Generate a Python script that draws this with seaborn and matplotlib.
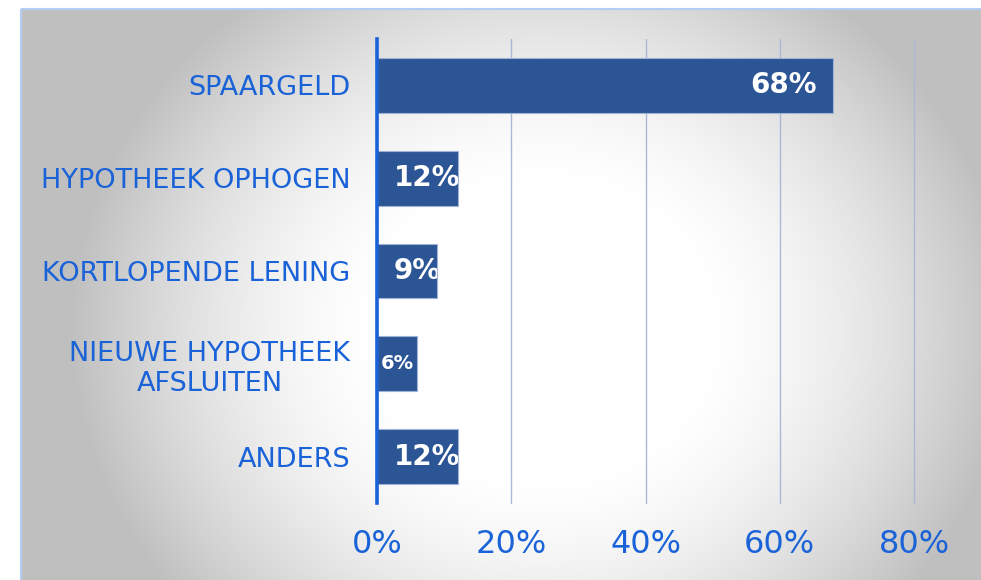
import numpy as np
import pandas as pd
import matplotlib
matplotlib.use("Agg")
import matplotlib.pyplot as plt
import seaborn as sns
from matplotlib.ticker import PercentFormatter
from matplotlib.patches import Rectangle

# --- data ---
categories = ["SPAARGELD", "HYPOTHEEK OPHOGEN", "KORTLOPENDE LENING",
              "NIEUWE HYPOTHEEK\nAFSLUITEN", "ANDERS"]
shares = [0.68, 0.12, 0.09, 0.06, 0.12]
x_ticks = [0.0, 0.2, 0.4, 0.6, 0.8]

df = pd.DataFrame({"categorie": categories, "aandeel": shares})

sns.set_theme(style="white")
plt.rcParams["font.family"] = ["DejaVu Sans"]

BLUE_TEXT = "#1a62d8"
BAR_COLOR = "#2c5595"
W, H = 981, 580

fig = plt.figure(figsize=(W / 100, H / 100), dpi=100)
fig.patch.set_facecolor("white")

# achtergrond: vlak met verloop van wit (midden) naar grijs (randen)
bg = fig.add_axes([0, 0, 1, 1], zorder=0)
bg.set_xlim(0, W)
bg.set_ylim(H, 0)
bg.axis("off")
yy, xx = np.mgrid[0:H, 0:W]
r = np.hypot((xx - 540) / 470, (yy - 330) / 420)
t = np.clip((r - 0.35) / 0.65, 0, 1) ** 1.5
g = 1.0 - 0.25 * t
img = np.dstack([g, g, g])
bg.imshow(img, extent=(0, W, H, 0), aspect="auto", interpolation="bilinear")
bg.add_patch(Rectangle((0, 0), W, 9, facecolor="white", edgecolor="none"))
bg.add_patch(Rectangle((0, 0), 21, H, facecolor="white", edgecolor="none"))
bg.add_patch(Rectangle((21, 9), W, H, facecolor="none", edgecolor="#b5cdf2", lw=1.5))

# hoofdas
left, right, top, bottom = 377, 914, 39, 503
ax = fig.add_axes([left / W, (H - bottom) / H, (right - left) / W, (bottom - top) / H], zorder=1)
ax.patch.set_alpha(0)

sns.barplot(data=df, x="aandeel", y="categorie", orient="h", color=BAR_COLOR,
            width=0.59, saturation=1, edgecolor="#9fb3d6", linewidth=0.8, ax=ax, zorder=3)

ax.set_xlim(0, 0.8)
ax.set_ylim(4.5, -0.5)
ax.set_xticks(x_ticks)
ax.xaxis.set_major_formatter(PercentFormatter(1.0, decimals=0))
ax.grid(axis="x", color="#a9b8d4", lw=1, zorder=0)
for gl in ax.get_xgridlines():
    gl.set_clip_on(False)
ax.set_axisbelow(True)
ax.set_xlabel("")
ax.set_ylabel("")

for s in ["top", "right", "bottom"]:
    ax.spines[s].set_visible(False)
ax.spines["left"].set_color("#1a62d8")
ax.spines["left"].set_linewidth(2.6)
ax.spines["left"].set_zorder(5)

ax.tick_params(axis="y", length=0, pad=19, labelsize=19.5, labelcolor=BLUE_TEXT)
ax.tick_params(axis="x", length=0, pad=19, labelsize=23, labelcolor=BLUE_TEXT)
for lbl in ax.get_yticklabels():
    lbl.set_multialignment("center")

# waardelabels, afgekapt op de balk
for patch, v in zip(ax.patches, shares):
    yc = patch.get_y() + patch.get_height() / 2
    txt = f"{v:.0%}"
    if v >= 0.3:
        t_ = ax.annotate(txt, (v, yc), xytext=(-12, 0), textcoords="offset points",
                         ha="right", va="center", color="white", fontweight="bold",
                         fontsize=20, zorder=4)
    elif v >= 0.08:
        t_ = ax.annotate(txt, (0, yc), xytext=(12, 0), textcoords="offset points",
                         ha="left", va="center", color="white", fontweight="bold",
                         fontsize=20, zorder=4)
    else:
        t_ = ax.annotate(txt, (0, yc), xytext=(3, 0), textcoords="offset points",
                         ha="left", va="center", color="white", fontweight="bold",
                         fontsize=14, zorder=4)
    t_.set_clip_path(patch)

fig.savefig("out.png", dpi=100)
